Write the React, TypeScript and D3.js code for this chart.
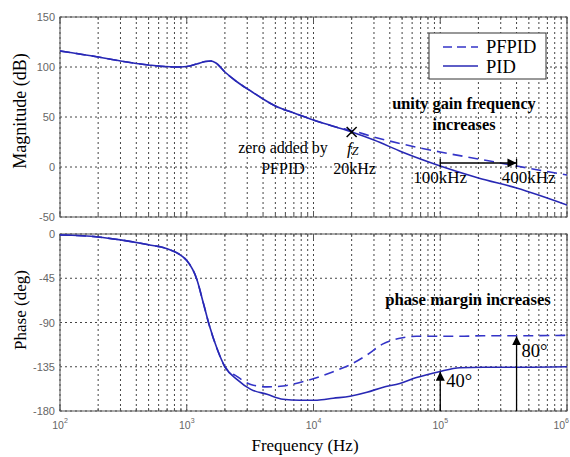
import React from "react";
import * as d3 from "d3";

// Bode plot data
const magFreq = [100, 200, 300, 500, 800, 1000, 1200, 1400, 1550, 1700, 2000, 2500, 3200, 4000, 5000, 7000, 10000, 15000, 20000, 30000, 50000, 100000, 200000, 400000, 1000000];
const magPID = [116, 110, 106, 102, 100, 100.5, 103, 105.5, 106, 104, 95, 85, 76, 68, 61, 54, 47, 40, 35, 27, 15, 1, -11, -21, -38];
const magPFPID = [116, 110, 106, 102, 100, 100.5, 103, 105.5, 106, 104, 95, 85, 76, 68, 61, 54, 47, 40, 36.5, 30, 23, 15, 8, 1, -8];

const phaseFreq = [100, 200, 300, 500, 700, 1000, 1200, 1350, 1500, 1750, 2000, 2500, 3200, 4300, 5750, 7800, 10700, 14300, 19400, 26400, 35000, 48000, 65000, 98000, 143000, 217000, 400000, 1000000];
const phasePID = [-1, -3, -6, -11, -15, -27, -46, -70, -92, -118, -135, -148, -158, -163, -168, -169, -169, -167, -165, -161, -156, -152, -146, -140, -136, -135.5, -135.5, -135];
const phasePFPID = [-1, -3, -6, -11, -15, -27, -46, -70, -92, -118, -135, -145, -153, -155.5, -154.5, -151, -146, -140, -133, -123, -112, -106, -104, -104, -104, -103.5, -103.5, -103];

const magTicks = [150, 100, 50, 0, -50];
const phaseTicks = [0, -45, -90, -135, -180];
const decades = [2, 3, 4, 5, 6];

const fz = 20000;
const ugf = [100000, 400000];
const pmTips = [-140, -104];

const W = 570;
const H = 457;
const left = 60;
const right = 567;

const serif = { fontFamily: "'Liberation Serif'" };
const sans = { fontFamily: "'Liberation Sans'" };

const App = () => {
  const x = d3.scaleLog().domain([1e2, 1e6]).range([left, right]);
  const yMag = d3.scaleLinear().domain([-50, 150]).range([217, 17]);
  const yPh = d3.scaleLinear().domain([-180, 0]).range([411, 234]);

  const magLine = (vals: number[]) =>
    d3.line<number>().x((d, i) => x(magFreq[i])).y((d) => yMag(d)).curve(d3.curveMonotoneX)(vals) || "";
  const phLine = (vals: number[]) =>
    d3.line<number>().x((d, i) => x(phaseFreq[i])).y((d) => yPh(d)).curve(d3.curveMonotoneX)(vals) || "";

  const gridX = x.ticks();
  const blue = "#2828b4";
  const dashBlue = "#3434c8";
  const gridStyle = { stroke: "#444", strokeWidth: 1, strokeDasharray: "2,3" };

  const panel = (y: d3.ScaleLinear<number, number>, ticks: number[], id: string) => {
    const [y1, y0] = y.range();
    return (
      <g key={id}>
        {gridX.map((f, i) => (
          <line key={"v" + i} x1={x(f)} x2={x(f)} y1={y0} y2={y1} {...gridStyle} />
        ))}
        {ticks.map((t, i) => (
          <line key={"h" + i} x1={left} x2={right} y1={y(t)} y2={y(t)} {...gridStyle} />
        ))}
        {gridX.map((f, i) => {
          const major = Math.abs(Math.log10(f) - Math.round(Math.log10(f))) < 1e-6;
          const len = major ? 6 : 3;
          return (
            <g key={"t" + i}>
              <line x1={x(f)} x2={x(f)} y1={y1} y2={y1 - len} stroke="#555" />
              <line x1={x(f)} x2={x(f)} y1={y0} y2={y0 + len} stroke="#555" />
            </g>
          );
        })}
        <rect x={left} y={y0} width={right - left} height={y1 - y0} fill="none" stroke="#555" strokeWidth={1} />
        {ticks.map((t, i) => (
          <text key={"l" + i} x={left - 5} y={y(t) + 4} textAnchor="end" style={sans} fontSize={11} fill="#666">
            {t}
          </text>
        ))}
      </g>
    );
  };

  return (
    <svg width={W} height={H} style={{ position: "absolute", left: 0, top: 0, background: "#fff", fontFamily: "'Liberation Serif'" }}>
      <defs>
        <marker id="ah" viewBox="0 0 10 10" refX="10" refY="5" markerWidth="7" markerHeight="7" orient="auto">
          <path d="M0,0 L10,5 L0,10 z" fill="#000" />
        </marker>
        <clipPath id="clipMag">
          <rect x={left} y={17} width={right - left} height={200} />
        </clipPath>
        <clipPath id="clipPh">
          <rect x={left} y={234} width={right - left} height={177} />
        </clipPath>
      </defs>
      <rect width={W} height={H} fill="#fff" />

      {panel(yMag, magTicks, "mag")}
      {panel(yPh, phaseTicks, "ph")}

      {/* magnitude curves */}
      <g clipPath="url(#clipMag)">
        <path d={magLine(magPFPID)} fill="none" stroke={dashBlue} strokeWidth={1.6} strokeDasharray="10,6" />
        <path d={magLine(magPID)} fill="none" stroke={blue} strokeWidth={1.6} />
      </g>

      {/* phase curves */}
      <g clipPath="url(#clipPh)">
        <path d={phLine(phasePFPID)} fill="none" stroke={dashBlue} strokeWidth={1.6} strokeDasharray="10,6" />
        <path d={phLine(phasePID)} fill="none" stroke={blue} strokeWidth={1.6} />
      </g>

      {/* legend */}
      <rect x={429} y={33} width={117} height={46} fill="#fff" stroke="#333" strokeWidth={1} />
      <line x1={443} x2={478} y1={47} y2={47} stroke={dashBlue} strokeWidth={1.6} strokeDasharray="9,5" />
      <line x1={443} x2={478} y1={66} y2={66} stroke={blue} strokeWidth={1.6} />
      <text x={486} y={53} style={serif} fontSize={18.5}>PFPID</text>
      <text x={486} y={73} style={serif} fontSize={18.5}>PID</text>

      {/* magnitude annotations */}
      <g stroke="#000" strokeWidth={1.5}>
        <line x1={x(fz) - 5} x2={x(fz) + 5} y1={yMag(35) - 5} y2={yMag(35) + 5} />
        <line x1={x(fz) - 5} x2={x(fz) + 5} y1={yMag(35) + 5} y2={yMag(35) - 5} />
      </g>
      <text x={x(fz) + 1} y={yMag(13)} style={serif} fontSize={17} fontStyle="italic" textAnchor="middle">
        f<tspan fontSize={12} dy={1}>Z</tspan>
      </text>
      <text x={283} y={yMag(14)} style={serif} fontSize={16} textAnchor="middle">zero added by</text>
      <text x={283} y={yMag(-7)} style={serif} fontSize={16} textAnchor="middle">PFPID</text>
      <text x={x(fz) + 3} y={yMag(-7)} style={serif} fontSize={16} textAnchor="middle">20kHz</text>

      <text x={464} y={yMag(58)} style={serif} fontSize={16.3} fontWeight="bold" textAnchor="middle">unity gain frequency</text>
      <text x={464} y={yMag(37)} style={serif} fontSize={16.3} fontWeight="bold" textAnchor="middle">increases</text>

      <line x1={x(ugf[0])} x2={x(ugf[1])} y1={yMag(4)} y2={yMag(4)} stroke="#000" strokeWidth={1.3} markerEnd="url(#ah)" />
      <line x1={x(ugf[0])} x2={x(ugf[0])} y1={yMag(8)} y2={yMag(0)} stroke="#000" strokeWidth={1.3} />
      <line x1={x(ugf[1])} x2={x(ugf[1])} y1={yMag(8)} y2={yMag(0)} stroke="#000" strokeWidth={1.3} />
      <text x={x(ugf[0])} y={yMag(-16)} style={serif} fontSize={17} textAnchor="middle">100kHz</text>
      <text x={x(ugf[1]) + 12} y={yMag(-16)} style={serif} fontSize={17} textAnchor="middle">400kHz</text>

      {/* phase annotations */}
      <text x={468} y={yPh(-72)} style={serif} fontSize={16.7} fontWeight="bold" textAnchor="middle">phase margin increases</text>
      {ugf.map((f, i) => (
        <line key={"pm" + i} x1={x(f)} x2={x(f)} y1={yPh(-180)} y2={yPh(pmTips[i])} stroke="#000" strokeWidth={1.3} markerEnd="url(#ah)" />
      ))}
      <text x={x(ugf[0]) + 6} y={yPh(-156)} style={serif} fontSize={18.5}>40°</text>
      <text x={x(ugf[1]) + 5} y={yPh(-125)} style={serif} fontSize={18.5}>80°</text>

      {/* x tick labels */}
      {decades.map((e, i) => (
        <text key={"x" + e} x={i === decades.length - 1 ? W - 1 : x(Math.pow(10, e))} y={429} style={sans} fontSize={10.5} fill="#666" textAnchor={i === decades.length - 1 ? "end" : "middle"}>
          10<tspan fontSize={7} dy={-6}>{e}</tspan>
        </text>
      ))}

      {/* axis titles */}
      <text transform="translate(26,111) rotate(-90)" style={serif} fontSize={18} textAnchor="middle">Magnitude (dB)</text>
      <text transform="translate(26,310) rotate(-90)" style={serif} fontSize={17} textAnchor="middle">Phase (deg)</text>
      <text x={305} y={451} style={serif} fontSize={17} textAnchor="middle">Frequency (Hz)</text>
    </svg>
  );
};

export default App;
